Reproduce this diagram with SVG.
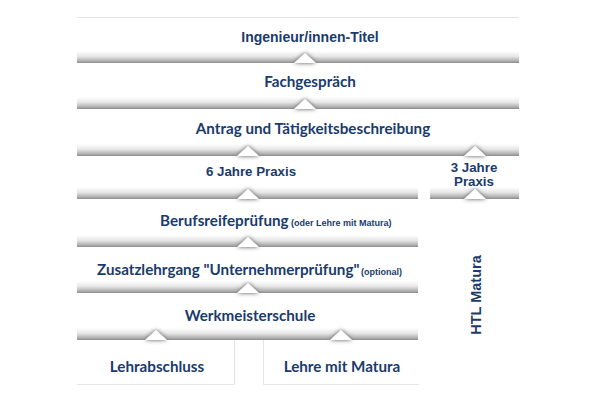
<svg xmlns="http://www.w3.org/2000/svg" width="600" height="400" viewBox="0 0 600 400">
<defs>
<linearGradient id="band" x1="0" y1="0" x2="0" y2="1">
<stop offset="0" stop-color="#ffffff"/>
<stop offset="0.45" stop-color="#e6e6e6"/>
<stop offset="0.8" stop-color="#b4b4b4"/>
<stop offset="1" stop-color="#8c8c8c"/>
</linearGradient>
<filter id="sh" x="-50%" y="-50%" width="200%" height="200%">
<feDropShadow dx="0" dy="0" stdDeviation="2" flood-color="#505050" flood-opacity="1"/>
</filter>
<polygon id="notch" points="-11,0 0,-10 11,0"/>
</defs>
<style>
.box{fill:#ffffff}
.band{fill:url(#band)}
.t{font-family:Lato,"Liberation Sans",sans-serif;font-weight:bold;font-size:15.2px;fill:#1a3b6c;text-anchor:middle}
.ts{font-family:Lato,"Liberation Sans",sans-serif;font-weight:bold;font-size:15.2px;fill:#1a3b6c;text-anchor:start}
.a{font-family:"Liberation Sans",Arial,sans-serif;font-weight:bold;font-size:13.3px;fill:#1a3b6c;text-anchor:middle}
.s{font-family:"Liberation Sans",Arial,sans-serif;font-weight:bold;font-size:9px;fill:#1a3b6c}
.edge{stroke:#e4e4e4;stroke-width:1;fill:none}
.notch{fill:#ffffff;filter:url(#sh)}
</style>
<rect width="600" height="400" fill="#ffffff"/>
<line class="edge" x1="77" y1="17.5" x2="519" y2="17.5"/>

<g id="n1">
<rect class="box" x="77" y="18" width="442" height="45"/>
<rect class="band" x="77" y="51" width="442" height="12"/>
<text class="a" x="310" y="42" style="font-size:14px">Ingenieur/innen-Titel</text>
</g>
<g id="n2">
<rect class="box" x="77" y="63" width="442" height="46"/>
<rect class="band" x="77" y="97" width="442" height="12"/>
<text class="t" x="310" y="87">Fachgespräch</text>
</g>
<g id="n3">
<rect class="box" x="77" y="109" width="442" height="47"/>
<rect class="band" x="77" y="144" width="442" height="12"/>
<text class="t" x="313" y="134">Antrag und Tätigkeitsbeschreibung</text>
</g>
<g id="n4">
<rect class="box" x="77" y="156" width="341" height="43"/>
<rect class="band" x="77" y="187" width="341" height="12"/>
<text class="a" x="251" y="176">6 Jahre Praxis</text>
</g>
<g id="n4b">
<rect class="box" x="430" y="156" width="89" height="43"/>
<rect class="band" x="430" y="187" width="89" height="12"/>
<text class="a" x="474" y="172" style="font-size:13.3px">3 Jahre</text>
<text class="a" x="474" y="186" style="font-size:13.3px">Praxis</text>
</g>
<g id="n5">
<rect class="box" x="77" y="199" width="341" height="48"/>
<rect class="band" x="77" y="235" width="341" height="12"/>
<text class="ts" x="160" y="226">Berufsreifeprüfung</text>
<text class="s" x="291" y="226">(oder Lehre mit Matura)</text>
</g>
<g id="n6">
<rect class="box" x="77" y="247" width="341" height="46"/>
<rect class="band" x="77" y="281" width="341" height="12"/>
<text class="ts" x="97" y="275">Zusatzlehrgang "Unternehmerprüfung"</text>
<text class="s" x="361" y="275">(optional)</text>
</g>
<g id="n7">
<rect class="box" x="77" y="293" width="341" height="47"/>
<rect class="band" x="77" y="328" width="341" height="12"/>
<text class="t" x="250" y="321">Werkmeisterschule</text>
</g>
<g id="n8a">
<rect class="box" x="77" y="340" width="158" height="45"/>
<path class="edge" d="M234.5,340 V384.5 H77"/>
<text class="t" x="157" y="372">Lehrabschluss</text>
</g>
<g id="n8b">
<rect class="box" x="263" y="340" width="156" height="45"/>
<path class="edge" d="M263.5,340 V384.5 H419"/>
<text class="t" x="342" y="372">Lehre mit Matura</text>
</g>
<g id="n9">
<text class="a" style="font-size:14.5px" transform="translate(481,295) rotate(-90)">HTL Matura</text>
</g>

<g id="connectors">
<use href="#notch" class="notch" x="305" y="63"/>
<use href="#notch" class="notch" x="305" y="109"/>
<use href="#notch" class="notch" x="248" y="156"/>
<use href="#notch" class="notch" x="475" y="156"/>
<use href="#notch" class="notch" x="248" y="199"/>
<use href="#notch" class="notch" x="475" y="199"/>
<use href="#notch" class="notch" x="248" y="247"/>
<use href="#notch" class="notch" x="248" y="293"/>
<use href="#notch" class="notch" x="156" y="340"/>
<use href="#notch" class="notch" x="341" y="340"/>
</g>
</svg>
